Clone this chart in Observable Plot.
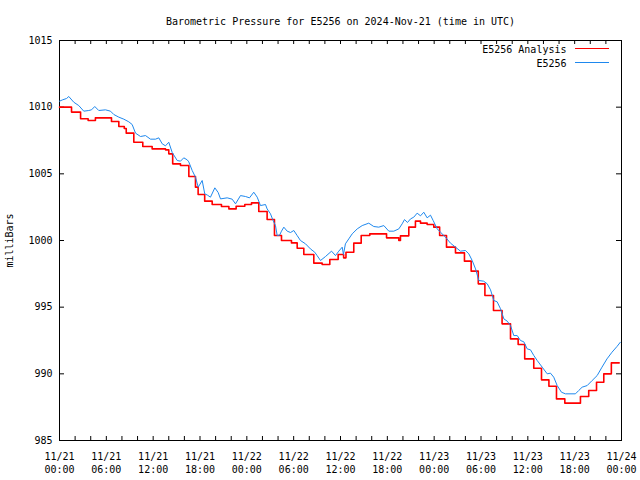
<!DOCTYPE html>
<html><head><meta charset="utf-8">
<script src="https://cdn.jsdelivr.net/npm/d3@7"></script>
<script src="https://cdn.jsdelivr.net/npm/@observablehq/plot@0.6"></script>
<style>body{margin:0;background:#fff}</style>
</head><body><div id="chart"></div>
<script>
const title = "Barometric Pressure for E5256 on 2024-Nov-21 (time in UTC)";
const yLabel = "milliBars";
const seriesNames = ["E5256 Analysis", "E5256"];
const seriesColors = ["#ff0000", "#1e88ee"];

// hours since 2024-11-21 00:00 UTC
const analysisHours = [0,1.54,2.7,3.67,4.6,6.66,7.6,8.3,8.55,9.52,10.67,11.87,13.58,14.0,14.5,15.5,16.57,17.42,17.76,18.6,19.56,20.75,21.7,22.63,23.74,24.6,25.53,26.6,27.54,28.44,29.72,30.45,31.3,32.58,33.65,34.63,35.7,36.4,36.7,37.7,38.65,39.75,41.9,43.47,43.68,44.75,45.6,46.25,47.1,47.95,48.7,49.58,50.73,51.88,52.74,53.65,54.5,55.6,56.7,57.78,58.76,59.6,60.76,61.75,62.7,63.67,64.74,66.74,67.8,68.8,69.73,70.7,71.7];
const analysisValues = [1010.0,1009.63,1009.13,1009.0,1009.2,1008.93,1008.55,1008.4,1008.05,1007.37,1007.05,1006.87,1006.8,1006.5,1005.75,1005.63,1004.8,1004.0,1003.45,1002.95,1002.7,1002.55,1002.37,1002.57,1002.7,1002.82,1002.17,1001.57,1000.37,1000.0,999.82,999.42,998.95,998.3,998.2,998.57,998.95,998.7,999.12,999.8,1000.37,1000.5,1000.2,1000.0,1000.35,1001.0,1001.45,1001.3,1001.2,1001.0,1000.37,999.5,999.07,998.45,997.7,996.75,995.87,994.75,993.75,992.62,992.2,991.12,990.42,989.55,989.07,988.12,987.8,988.3,988.75,989.37,990.0,990.82,990.82];

const stationHours = [0,0.4,0.9,1.19,1.83,2.47,3.11,3.75,4.1,4.52,5.03,5.89,6.53,6.96,7.6,8.24,8.88,9.31,9.74,10.38,11.02,11.66,12.3,12.72,13.16,13.58,14.0,14.44,15.08,15.5,15.92,16.36,16.56,17.0,17.42,17.77,18.28,18.61,18.96,19.34,19.9,20.33,20.63,21.48,22.12,22.55,23.19,23.83,24.34,24.89,25.33,25.75,26.39,26.6,27.03,27.33,27.67,27.89,28.2,28.44,28.74,29.17,29.6,30.02,30.45,30.87,31.52,32.15,32.7,33.0,33.44,34.08,34.85,35.36,35.78,36.22,36.38,36.63,37.06,37.5,38.14,38.78,39.62,40.26,40.9,41.55,42.19,42.83,43.47,43.9,44.2,44.58,44.97,45.39,45.82,46.25,46.67,47.1,47.53,47.87,48.39,48.81,49.45,50.09,50.73,51.37,52.01,52.44,52.87,53.3,53.72,54.33,54.8,55.22,55.64,56.07,56.5,56.93,57.36,57.78,58.2,58.64,59.06,59.49,59.92,60.34,60.77,61.2,61.84,62.48,62.9,63.32,63.76,64.31,64.82,66.1,66.52,66.96,67.6,68.24,68.88,69.5,70.14,70.78,71.42,71.85];
const stationValues = [1010.45,1010.55,1010.65,1010.8,1010.37,1010.12,1009.7,1009.75,1009.8,1010.05,1009.75,1009.8,1009.7,1009.45,1009.25,1009.1,1008.9,1008.7,1008.05,1007.8,1007.87,1007.6,1007.6,1007.7,1007.25,1007.1,1007.37,1006.6,1006.0,1005.95,1006.2,1006.05,1005.9,1005.25,1004.75,1004.0,1004.5,1003.5,1003.4,1003.25,1003.95,1003.6,1003.12,1003.2,1003.1,1002.75,1003.37,1003.3,1003.2,1003.62,1003.25,1002.62,1002.7,1002.37,1002.0,1001.55,1001.12,1000.37,1000.4,1000.7,1001.0,1000.7,1000.6,1000.75,1000.37,1000.0,999.75,999.37,999.12,998.87,998.5,998.8,999.2,998.87,999.2,999.5,998.95,999.75,1000.12,1000.5,1000.87,1001.12,1001.3,1001.05,1001.0,1001.12,1000.7,1000.7,1000.87,1001.25,1001.57,1001.35,1001.62,1001.75,1002.05,1001.85,1002.12,1001.7,1001.9,1001.5,1000.87,1000.62,1000.25,999.8,999.5,999.2,999.25,999.0,998.5,997.87,997.0,996.95,996.75,996.3,995.5,995.4,994.88,994.12,993.95,993.62,992.87,992.87,992.5,992.4,991.87,991.8,991.37,991.0,990.5,990.0,990.05,989.75,989.12,988.62,988.5,988.5,988.75,989.0,989.12,989.5,989.87,990.5,991.12,991.62,992.05,992.37];

const xTickHours = [0,6,12,18,24,30,36,42,48,54,60,66,72];
const xTickDates = ["11/21","11/21","11/21","11/21","11/22","11/22","11/22","11/22","11/23","11/23","11/23","11/23","11/24"];
const xTickTimes = ["00:00","06:00","12:00","18:00","00:00","06:00","12:00","18:00","00:00","06:00","12:00","18:00","00:00"];
const minorTickHours = [0,2,4,6,8,10,12,14,16,18,20,22,24,26,28,30,32,34,36,38,40,42,44,46,48,50,52,54,56,58,60,62,64,66,68,70,72];
const yTicks = [985,990,995,1000,1005,1010,1015];

const analysis = analysisHours.map((h, i) => ({h, v: analysisValues[i]}));
const station = stationHours.map((h, i) => ({h, v: stationValues[i]}));

const W = 640, H = 480, mL = 59, mR = 19, mT = 40, mB = 40;
const fw = W - mL - mR, fh = H - mT - mB;

const chart = Plot.plot({
  width: W, height: H,
  marginLeft: mL, marginRight: mR, marginTop: mT, marginBottom: mB,
  style: {fontFamily: "'DejaVu Sans Mono', monospace", fontSize: "10px", color: "black", background: "white"},
  x: {type: "linear", domain: [0, 72]},
  y: {domain: [985, 1015]},
  marks: [
    Plot.frame({stroke: "black", strokeWidth: 1}),
    Plot.tickX(minorTickHours, {x: d => d, insetTop: fh - 4, stroke: "black"}),
    Plot.tickX(minorTickHours, {x: d => d, insetBottom: fh - 4, stroke: "black"}),
    Plot.tickY(yTicks, {y: d => d, insetRight: fw - 5, stroke: "black"}),
    Plot.tickY(yTicks, {y: d => d, insetLeft: fw - 5, stroke: "black"}),
    Plot.axisY(yTicks, {tickSize: 0, tickPadding: 7, label: null, tickFormat: d => String(d), fontSize: 10}),
    Plot.axisX(xTickHours, {tickSize: 0, tickPadding: 10, label: null, lineHeight: 1.3,
      tickFormat: d => { const i = xTickHours.indexOf(d); return xTickDates[i] + "\n" + xTickTimes[i]; }}),
    Plot.line(analysis, {x: "h", y: "v", curve: "step-after", stroke: seriesColors[0], strokeWidth: 1.6}),
    Plot.line(station, {x: "h", y: "v", stroke: seriesColors[1], strokeWidth: 1}),
    Plot.text([yLabel], {frameAnchor: "left", textAnchor: "middle", rotate: -90, dx: -50, fontSize: 10}),
    Plot.text([title], {frameAnchor: "top", dy: -23, fontSize: 10}),
    Plot.text([seriesNames[0]], {frameAnchor: "top-right", textAnchor: "end", dx: -55, dy: 5, fontSize: 10}),
    Plot.text([seriesNames[1]], {frameAnchor: "top-right", textAnchor: "end", dx: -55, dy: 19, fontSize: 10})
  ]
});

// legend line samples
const svg = d3.select(chart);
seriesColors.forEach((c, i) => {
  svg.append("line")
    .attr("x1", W - mR - 46).attr("x2", W - mR - 12)
    .attr("y1", mT + 8.5 + i * 14).attr("y2", mT + 8.5 + i * 14)
    .attr("stroke", c).attr("stroke-width", 1);
});
document.getElementById("chart").appendChild(chart);
</script>
</body></html>
